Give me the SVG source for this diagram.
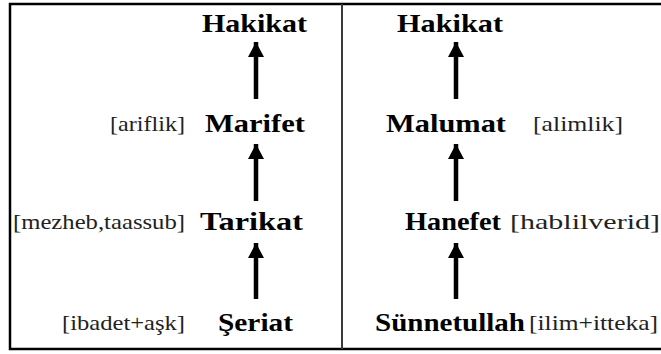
<svg xmlns="http://www.w3.org/2000/svg" width="661" height="354" viewBox="0 0 661 354">
<style>
.ar{stroke:#000;stroke-width:4.5;fill:none;marker-end:url(#ah)}
</style>
<defs>
<marker id="ah" markerUnits="userSpaceOnUse" markerWidth="16" markerHeight="16" viewBox="0 0 16 16" refX="15" refY="8" orient="auto">
<path d="M0,0 L15,8 L0,16 Z" fill="#000"/>
</marker>
</defs>
<rect width="661" height="354" fill="#fff"/>
<g id="frame" stroke="#000" stroke-width="2.5" fill="none">
<path d="M661,4 H10 V349 H661"/>
<line x1="342" y1="4" x2="342" y2="349" stroke="#3a3a3a" stroke-width="2"/>
</g>
<g id="connectors">
<line class="ar" x1="256" y1="99" x2="256" y2="42"/>
<line class="ar" x1="256" y1="201" x2="256" y2="144"/>
<line class="ar" x1="256" y1="299" x2="256" y2="243"/>
<line class="ar" x1="456" y1="99" x2="456" y2="42"/>
<line class="ar" x1="456" y1="201" x2="456" y2="144"/>
<line class="ar" x1="456" y1="299" x2="456" y2="243"/>
</g>
<g id="hakikat-left"><text font-family="Liberation Serif" font-size="26" font-weight="bold" x="202" y="32" textLength="105" lengthAdjust="spacingAndGlyphs">Hakikat</text></g>
<g id="marifet"><text font-family="Liberation Serif" font-size="26" font-weight="bold" x="205" y="132" textLength="100" lengthAdjust="spacingAndGlyphs">Marifet</text>
<text font-family="Liberation Serif" font-size="21" fill="#222" x="110" y="131" textLength="75" lengthAdjust="spacingAndGlyphs">[ariflik]</text></g>
<g id="tarikat"><text font-family="Liberation Serif" font-size="26" font-weight="bold" x="200" y="230" textLength="103" lengthAdjust="spacingAndGlyphs">Tarikat</text>
<text font-family="Liberation Serif" font-size="21" fill="#222" x="13" y="229" textLength="172" lengthAdjust="spacingAndGlyphs">[mezheb,taassub]</text></g>
<g id="seriat"><text font-family="Liberation Serif" font-size="26" font-weight="bold" x="218" y="331" textLength="75" lengthAdjust="spacingAndGlyphs">Şeriat</text>
<text font-family="Liberation Serif" font-size="21" fill="#222" x="62" y="330" textLength="123" lengthAdjust="spacingAndGlyphs">[ibadet+aşk]</text></g>
<g id="hakikat-right"><text font-family="Liberation Serif" font-size="26" font-weight="bold" x="397" y="32" textLength="106" lengthAdjust="spacingAndGlyphs">Hakikat</text></g>
<g id="malumat"><text font-family="Liberation Serif" font-size="26" font-weight="bold" x="386" y="132" textLength="120" lengthAdjust="spacingAndGlyphs">Malumat</text>
<text font-family="Liberation Serif" font-size="21" fill="#222" x="533" y="131" textLength="90" lengthAdjust="spacingAndGlyphs">[alimlik]</text></g>
<g id="hanefet"><text font-family="Liberation Serif" font-size="26" font-weight="bold" x="405" y="230" textLength="96" lengthAdjust="spacingAndGlyphs">Hanefet</text>
<text font-family="Liberation Serif" font-size="21" fill="#222" x="510" y="229" textLength="150" lengthAdjust="spacingAndGlyphs">[hablilverid]</text></g>
<g id="sunnetullah"><text font-family="Liberation Serif" font-size="26" font-weight="bold" x="375" y="331" textLength="150" lengthAdjust="spacingAndGlyphs">Sünnetullah</text>
<text font-family="Liberation Serif" font-size="21" fill="#222" x="529" y="330" textLength="129" lengthAdjust="spacingAndGlyphs">[ilim+itteka]</text></g>
</svg>
